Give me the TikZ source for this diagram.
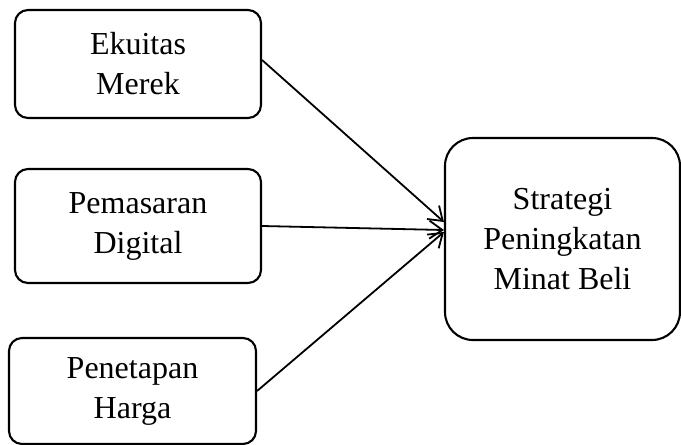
\documentclass[tikz,border=0pt]{standalone}
\usepackage{fontspec}
\setmainfont{Liberation Serif}
\usetikzlibrary{arrows.meta}

\tikzset{
  varbox/.style={draw, line width=2.1pt, rounded corners=13pt, align=center,
    inner sep=0pt, font=\fontsize{32}{40}\selectfont},
  varlink/.style={line width=1.8pt,
    -{Straight Barb[length=13pt,width=18pt,line width=1.8pt]}}
}

\begin{document}
\begin{tikzpicture}[x=1pt,y=-1pt]
    \useasboundingbox (0,0) rectangle (681,445);

    % three input variables
    \node[varbox, minimum width=246pt, minimum height=108pt] (ekuitas) at (138,64) {Ekuitas\\Merek};
    \node[varbox, minimum width=246pt, minimum height=114pt] (pemasaran) at (138,226) {Pemasaran\\Digital};
    \node[varbox, minimum width=247pt, minimum height=106pt] (penetapan) at (132.5,391) {Penetapan\\Harga};

    % outcome
    \node[varbox, rounded corners=28pt, minimum width=235pt, minimum height=202pt] (strategi) at (562.5,239) {Strategi\\Peningkatan\\Minat Beli};

    \draw[varlink] ([yshift=4pt]ekuitas.east) -- ([yshift=17pt]strategi.west);
    \draw[varlink] (pemasaran.east) -- ([yshift=9pt]strategi.west);
    \draw[varlink] (penetapan.east) -- ([yshift=7pt]strategi.west);
\end{tikzpicture}
\end{document}
